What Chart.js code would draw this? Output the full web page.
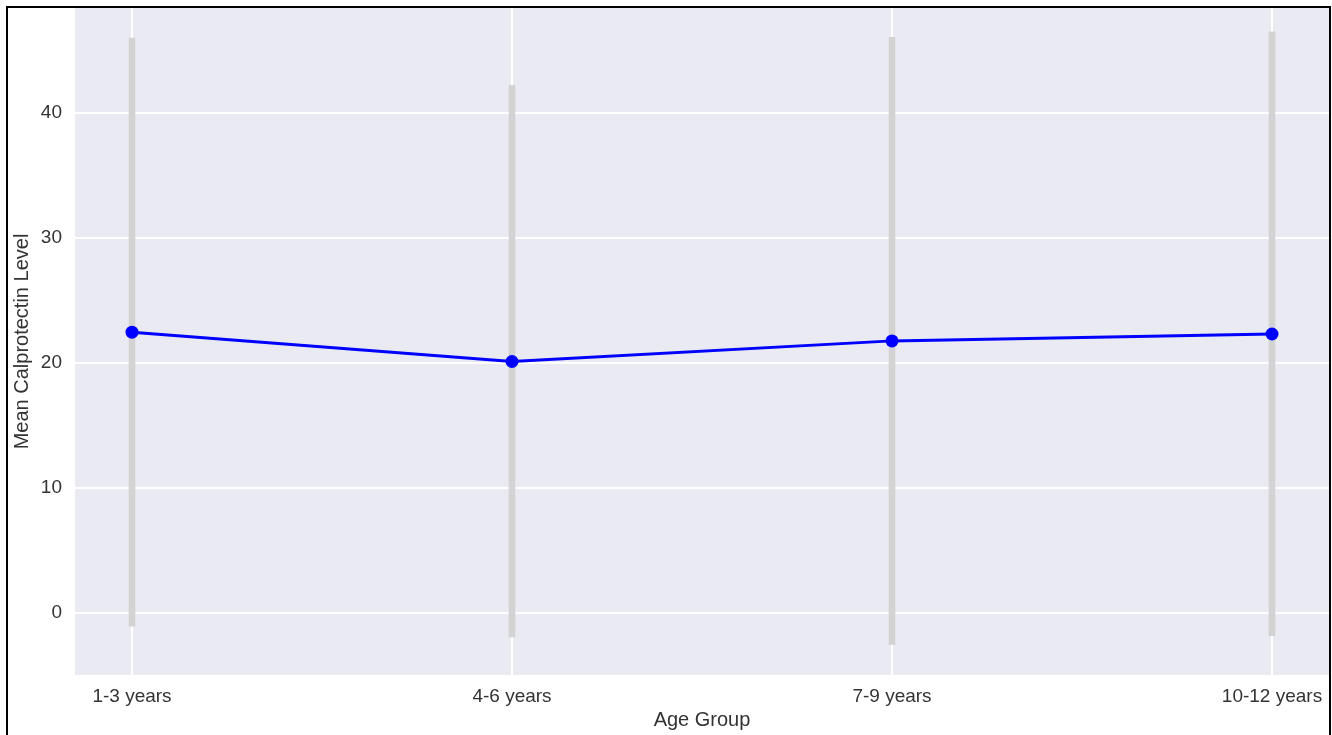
<!DOCTYPE html>
<html>
<head>
<meta charset="utf-8">
<script src="https://cdn.jsdelivr.net/npm/chart.js@4"></script>
<style>
  html, body { margin: 0; padding: 0; background: #fff; overflow: hidden; }
  #myChart { position: absolute; left: 0; top: 0; }
  #frame { position: absolute; left: 6px; top: 6px; width: 1321px; height: 800px; border: 2px solid #000; pointer-events: none; }
</style>
</head>
<body>
<canvas id="myChart" width="1332" height="735"></canvas>
<div id="frame"></div>
<script>
var ageGroups = ["1-3 years", "4-6 years", "7-9 years", "10-12 years"];
var meanValues = [22.45, 20.1, 21.75, 22.3];
var lowerValues = [-1.1, -1.95, -2.55, -1.85];
var upperValues = [46.0, 42.2, 46.05, 46.5];
var yTicks = [0, 10, 20, 30, 40];

var textColor = "#333333";
var plotBg = "#EAEAF2";
var fontFamily = "Liberation Sans, Arial, sans-serif";

// fill the plot area like seaborn's darkgrid
const plotBackground = {
  id: "plotBackground",
  beforeDraw(chart) {
    const a = chart.chartArea;
    const ctx = chart.ctx;
    ctx.save();
    ctx.fillStyle = plotBg;
    ctx.fillRect(a.left, a.top, a.right - a.left, a.bottom - a.top);
    ctx.restore();
  }
};

const lineChart = document.getElementById("myChart");

new Chart(lineChart, {
  data: {
    datasets: [{
      type: "line",
      label: "Mean",
      data: meanValues.map((v, i) => ({ x: i, y: v })),
      borderColor: "#0000ff",
      backgroundColor: "#0000ff",
      borderWidth: 3,
      pointRadius: 6.5,
      pointBorderWidth: 0,
      tension: 0,
    }, {
      type: "bar",
      label: "Range",
      data: lowerValues.map((v, i) => ({ x: i, y: [v, upperValues[i]] })),
      backgroundColor: "#d3d3d3",
      borderWidth: 0,
      barThickness: 6,
    }],
  },
  options: {
    responsive: false,
    animation: false,
    layout: { autoPadding: false, padding: { left: 10, right: 3, top: 8, bottom: 3 } },
    plugins: {
      legend: { display: false },
      tooltip: { enabled: false },
    },
    scales: {
      x: {
        type: "linear",
        offset: false,
        min: -0.15,
        max: 3.15,
        afterBuildTicks: (s) => { s.ticks = ageGroups.map((c, i) => ({ value: i })); },
        afterFit: (s) => { s.height = 57; s.paddingLeft = 0; s.paddingRight = 0; },
        ticks: {
          callback: (v) => ageGroups[v],
          color: textColor,
          font: { family: fontFamily, size: 19 },
          padding: 10,
          maxRotation: 0,
        },
        grid: { color: "#ffffff", lineWidth: 2, drawTicks: false, offset: false },
        border: { display: false },
        title: {
          display: true,
          text: "Age Group",
          color: textColor,
          font: { family: fontFamily, size: 20 },
          padding: 0,
        },
      },
      y: {
        min: -5,
        max: 48.4,
        afterBuildTicks: (s) => { s.ticks = yTicks.map((v) => ({ value: v })); },
        afterFit: (s) => { s.width = 65; s.paddingTop = 0; s.paddingBottom = 0; },
        ticks: {
          color: textColor,
          font: { family: fontFamily, size: 19 },
          padding: 13,
        },
        grid: { color: "#ffffff", lineWidth: 2, drawTicks: false },
        border: { display: false },
        title: {
          display: true,
          text: "Mean Calprotectin Level",
          color: textColor,
          font: { family: fontFamily, size: 20 },
          padding: 0,
        },
      },
    },
  },
  plugins: [plotBackground],
});
</script>
</body>
</html>
